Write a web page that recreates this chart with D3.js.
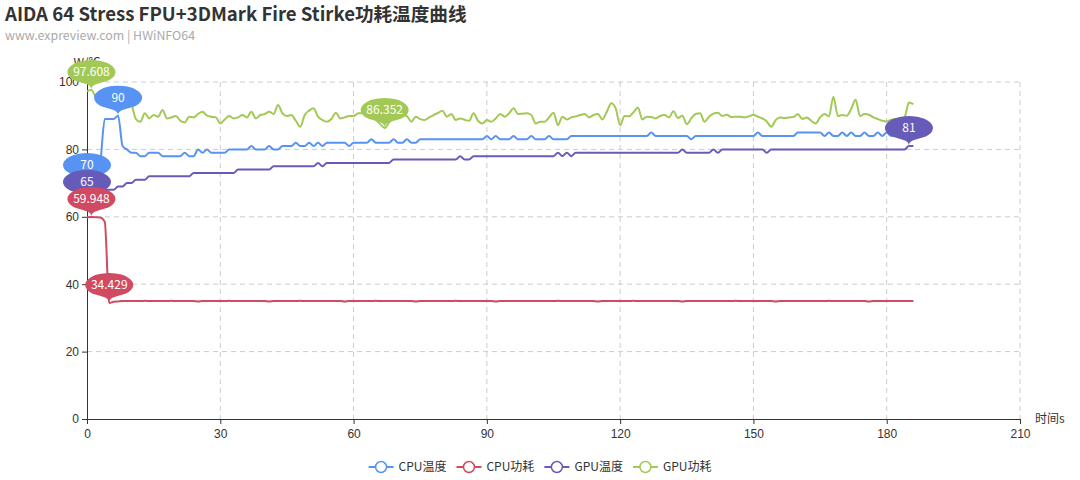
<!DOCTYPE html>
<html>
<head>
<meta charset="utf-8">
<title>AIDA 64 Stress FPU+3DMark Fire Stirke功耗温度曲线</title>
<script src="https://cdn.jsdelivr.net/npm/d3@7/dist/d3.min.js"></script>
<style>
body{margin:0;background:#fff;}
svg{display:block;font-family:"Microsoft YaHei","Noto Sans CJK SC","Noto Sans",sans-serif;}
</style>
</head>
<body>
<div id="chart"></div>
<script>
var width = 1080,
    height = 480;

var seriesNames = ["CPU温度", "CPU功耗", "GPU温度", "GPU功耗"];
var colors = ["#5793f3", "#d14a61", "#675bba", "#a2c955"];
var xTicks = [0, 30, 60, 90, 120, 150, 180, 210];
var yTicks = [0, 20, 40, 60, 80, 100];

// one sample per second, 0..186 s
var time = d3.range(0, 187);

var cpuTemp = [
  70,70,70,76,89,89,89,90,81,80,
  79,79,78,78,79,79,79,78,78,78,
  78,78,79,78,78,80,79,80,79,79,
  79,79,80,80,80,80,80,81,80,80,
  80,81,80,80,81,81,81,82,81,81,
  82,81,82,81,82,82,82,82,82,81,
  82,82,82,82,83,82,82,82,82,83,
  82,82,83,82,82,83,83,83,83,83,
  83,83,83,83,83,83,83,83,83,83,
  84,83,84,83,83,83,84,83,83,83,
  84,83,83,83,84,83,83,83,83,84,
  84,84,84,84,84,84,84,84,84,84,
  84,84,84,84,84,84,84,85,84,84,
  84,84,84,84,84,84,83,84,84,84,
  84,84,84,84,84,84,84,84,84,84,
  84,85,84,84,84,84,84,84,84,84,
  85,85,85,85,85,85,84,85,84,84,
  85,84,85,84,84,85,84,84,85,84,
  85,84,85,85,85,85,85
];

var cpuPower = [
  59.9,59.948,59.9,59.8,58.5,34.429,34.8,34.9,35,35,
  35,35,35,35.1,35,35,35,35,35,35.1,
  35,35,35,35,35,34.9,35,35,35,35,
  35,35,35.1,35,35,35,35,35,35,35,
  35,34.9,35,35,35,35,35,35,35.1,35,
  35,35,35,35,35,35,35,35,34.9,35,
  35,35,35,35,35,35.1,35,35,35,35,
  35,35,35,35,34.9,35,35,35,35,35,
  35,35,35,35.1,35,35,35,35,35,35,
  35,35,34.9,35,35,35,35,35,35,35,
  35,35,35,35,35,35,35.1,35,35,35,
  35,35,35,35,35,34.9,35,35,35,35,
  35,35,35,35.1,35,35,35,35,35,35,
  35,35,35,35,34.9,35,35,35,35,35,
  35,35,35,35,35,35,35.1,35,35,35,
  35,35,35,35,35,34.9,35,35,35,35,
  35,35,35,35,35,35,35,35.1,35,35,
  35,35,35,35,35,35,34.9,35,35,35,
  35,35,35,35,35,35,35
];

var gpuTemp = [
  65,67,67,68,68,68,68,69,69,70,
  70,71,71,71,72,72,72,72,72,72,
  72,72,72,72,73,73,73,73,73,73,
  73,73,73,73,74,74,74,74,74,74,
  74,74,75,75,75,75,75,75,75,75,
  75,75,76,75,76,76,76,76,76,76,
  76,76,76,76,76,76,76,76,76,77,
  77,77,77,77,77,77,77,77,77,77,
  77,77,77,77,78,77,77,78,78,78,
  78,78,78,78,78,78,78,78,78,78,
  78,78,78,78,78,78,79,78,79,78,
  79,79,79,79,79,79,79,79,79,79,
  79,79,79,79,79,79,79,79,79,79,
  79,79,79,79,80,79,79,79,79,79,
  79,80,79,80,80,80,80,80,80,80,
  80,80,80,79,80,80,80,80,80,80,
  80,80,80,80,80,80,80,80,80,80,
  80,80,80,80,80,80,80,80,80,80,
  80,80,80,80,80,81,81
];

var gpuPower = [
  97.2,97.608,95.5,95,95.3,95,94.8,95,94.6,94,
  93.2,89,88.2,90.7,89.2,90.2,89.7,91.7,89.2,89.5,
  89.9,88.5,88,89.7,89.5,90.5,91.2,90,89.7,89.5,
  87.7,88.9,89.9,89.2,89.5,90.2,89.5,91.2,89.2,90.2,
  90.5,91.2,90.5,93.2,90.7,89.9,90.2,88.5,86.7,90.2,
  91.5,92.2,89.7,88.7,88.2,89,90.9,89.2,89.5,89.9,
  89.9,90.7,90.7,90.2,89.5,88.8,87.5,86.352,88,89.2,
  90,90.2,89.9,88.2,89.7,89,88.7,89.5,90.2,90.8,
  91.5,89.7,90.5,88.7,89.2,88.8,88.5,90.7,88.5,87.7,
  88.7,88.2,89.2,90.5,89.7,90.7,92.2,90.5,90.6,90.7,
  90.2,87.7,88.2,88.2,89.5,90.9,87.2,89.7,88.9,89.5,
  89.8,90.2,90.5,89.5,90.2,90.5,88.9,91.2,93.7,92.2,
  87.2,89.9,89.8,91,92.4,88.9,89.7,89.6,89.2,89.9,
  90.2,89.5,91.3,89.3,90,87.5,89.2,90.5,90.7,88.2,
  89.7,90.6,90.9,89.9,90.3,89.6,89.7,89.7,89.5,89.8,
  90.3,89.7,89.2,88.3,86.7,88.7,89.5,89.3,89.5,89.6,
  90.5,89,89.5,88.5,87.7,89.5,90.5,89.8,95.6,89.9,
  90.2,90,92,94.7,89.9,90.5,90.3,89.5,89,88.5,
  88.3,88.8,89,88.9,89.5,93.9,93.4
];

var seriesData = [cpuTemp, cpuPower, gpuTemp, gpuPower];

var margin = {top: 82, right: 60, bottom: 61, left: 87};
var plotW = width - margin.left - margin.right,
    plotH = height - margin.top - margin.bottom;

var svg = d3.select("#chart").append("svg")
    .attr("width", width)
    .attr("height", height);

// title
svg.append("text")
    .attr("x", 5).attr("y", 21)
    .attr("font-size", 18.6).attr("font-weight", "bold")
    .attr("fill", "#333")
    .text("AIDA 64 Stress FPU+3DMark Fire Stirke功耗温度曲线");
svg.append("text")
    .attr("x", 5).attr("y", 40)
    .attr("font-size", 12.4)
    .attr("fill", "#aaa")
    .text("www.expreview.com | HWiNFO64");

var x = d3.scaleLinear().domain([0, 210]).range([0, plotW]);
var y = d3.scaleLinear().domain([0, 100]).range([plotH, 0]);

var g = svg.append("g").attr("transform", "translate(" + margin.left + "," + margin.top + ")");

// dashed grid
g.append("g").selectAll("line").data(yTicks.filter(function(d){ return d > 0; }))
  .enter().append("line")
    .attr("x1", 0).attr("x2", plotW)
    .attr("y1", function(d){ return y(d); }).attr("y2", function(d){ return y(d); })
    .attr("stroke", "#ccc").attr("stroke-dasharray", "5,4");
g.append("g").selectAll("line").data(xTicks.filter(function(d){ return d > 0; }))
  .enter().append("line")
    .attr("y1", 0).attr("y2", plotH)
    .attr("x1", function(d){ return x(d); }).attr("x2", function(d){ return x(d); })
    .attr("stroke", "#ccc").attr("stroke-dasharray", "5,4");

// axes
var xAxis = g.append("g")
    .attr("transform", "translate(0," + plotH + ")")
    .call(d3.axisBottom(x).tickValues(xTicks).tickSize(5).tickSizeOuter(0).tickPadding(5));
var yAxis = g.append("g")
    .call(d3.axisLeft(y).tickValues(yTicks).tickSize(5).tickSizeOuter(0).tickPadding(3));
[xAxis, yAxis].forEach(function(a){
  a.selectAll("path, line").attr("stroke", "#333");
  a.selectAll("text").attr("fill", "#333").attr("font-size", 12)
    .style("font-family", "inherit");
});

g.append("text")
    .attr("x", plotW + 15).attr("y", plotH)
    .attr("dy", "0.35em")
    .attr("font-size", 12).attr("fill", "#333")
    .text("时间s");
// y axis name, mostly hidden behind the max marker as in the original
g.append("text")
    .attr("x", 0).attr("y", -15)
    .attr("text-anchor", "middle")
    .attr("font-size", 12).attr("fill", "#333")
    .text("W/℃");

// lines
var line = d3.line()
    .x(function(d, i){ return x(time[i]); })
    .y(function(d){ return y(d); })
    .curve(d3.curveMonotoneX);

seriesData.forEach(function(s, k){
  g.append("path")
    .datum(s)
    .attr("fill", "none")
    .attr("stroke", colors[k])
    .attr("stroke-width", 2)
    .attr("stroke-linejoin", "round")
    .attr("d", line);
});

// pin shaped max/min markers
function pinPath(){
  var r = 15, h = 45;
  var dy = r * r / (h - r);
  var cy = -h + r + dy;
  var ang = Math.asin(dy / r);
  var dx = Math.cos(ang) * r;
  var tx = Math.sin(ang), ty = Math.cos(ang);
  var c1 = r * 0.6, c2 = r * 0.7;
  var p = d3.path();
  p.moveTo(-dx, cy + dy);
  p.arc(0, cy, r, Math.PI - ang, Math.PI * 2 + ang);
  p.bezierCurveTo(dx - tx * c1, cy + dy + ty * c1, 0, -c2, 0, 0);
  p.bezierCurveTo(0, -c2, -dx + tx * c1, cy + dy + ty * c1, -dx, cy + dy);
  p.closePath();
  return {d: p.toString(), cy: cy};
}
var pin = pinPath();
var sx = 48 / 30, sy = 30 / 37.5;

var markerOrder = [0, 2, 1, 3];
var mg = g.append("g");
markerOrder.forEach(function(k){
  var s = seriesData[k];
  var iMax = d3.maxIndex(s), iMin = d3.minIndex(s);
  [iMin, iMax].forEach(function(i){
    var m = mg.append("g")
      .attr("transform", "translate(" + x(time[i]) + "," + y(s[i]) + ")");
    m.append("path")
      .attr("d", pin.d)
      .attr("transform", "scale(" + sx + "," + sy + ")")
      .attr("fill", colors[k]);
    m.append("text")
      .attr("y", pin.cy * sy)
      .attr("dy", "0.35em")
      .attr("text-anchor", "middle")
      .attr("font-size", 12)
      .attr("fill", "#fff")
      .text(s[i]);
  });
});

// legend
var legend = svg.append("g").attr("transform", "translate(0,467)");
var items = legend.selectAll("g").data(seriesNames).enter().append("g");
items.append("line")
    .attr("x1", 0).attr("x2", 25)
    .attr("stroke", function(d, i){ return colors[i]; })
    .attr("stroke-width", 2);
items.append("circle")
    .attr("cx", 12.5).attr("r", 5.5)
    .attr("fill", "#fff")
    .attr("stroke", function(d, i){ return colors[i]; })
    .attr("stroke-width", 1.5);
items.append("text")
    .attr("x", 30).attr("dy", "0.35em")
    .attr("font-size", 12).attr("fill", "#333")
    .text(function(d){ return d; });
var widths = [];
items.each(function(){ widths.push(this.getBBox().width); });
var total = d3.sum(widths) + 10 * (widths.length - 1);
var cx = width / 2 - total / 2;
items.attr("transform", function(d, i){
  var t = "translate(" + cx + ",0)";
  cx += widths[i] + 10;
  return t;
});
</script>
</body>
</html>
